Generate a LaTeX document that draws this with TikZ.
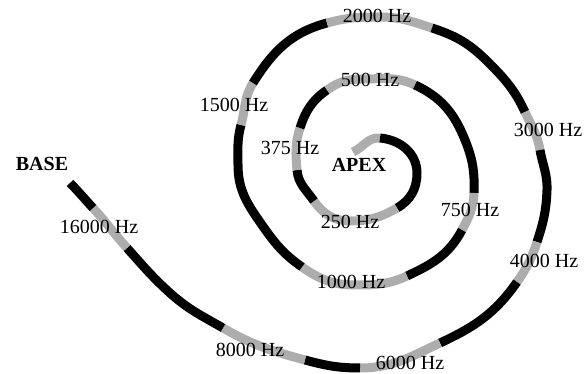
\documentclass[tikz,border=0pt]{standalone}
\usepackage{fontspec}
\setmainfont{Liberation Serif}

\tikzset{
  coil/.style={line width=9pt,black},
  band/.style={line width=9pt,black!32},
  freq/.style={font=\fontsize{20}{24}\selectfont,inner sep=0pt},
  tip/.style={font=\fontsize{20}{24}\selectfont\bfseries,inner sep=0pt}
}

\begin{document}
\begin{tikzpicture}[x=1pt,y=1pt]
    \useasboundingbox (0,0) rectangle (587,374);
    % points along the turns, from the apex outwards
    \coordinate (a0) at (353,222);
    \coordinate (a1) at (380,236);
    \coordinate (r1) at (417,201);
    \coordinate (a2) at (397,166);
    \coordinate (b1) at (350,153);
    \coordinate (a3) at (314,173);
    \coordinate (a4) at (297,204);
    \coordinate (a5) at (300,246);
    \coordinate (a6) at (327,284);
    \coordinate (t2) at (362,295);
    \coordinate (a7) at (415,289);
    \coordinate (r2a) at (465,234);
    \coordinate (a8) at (474,181);
    \coordinate (a9) at (462,144);
    \coordinate (a10) at (407,98);
    \coordinate (b2) at (355,89);
    \coordinate (a11) at (302,107);
    \coordinate (l3a) at (262,149);
    \coordinate (l3) at (238,209);
    \coordinate (a12) at (241,249);
    \coordinate (a13) at (253,291);
    \coordinate (a14) at (327,351);
    \coordinate (t3) at (380,357);
    \coordinate (a15) at (432,346);
    \coordinate (r3a) at (488,312);
    \coordinate (a16) at (525,262);
    \coordinate (a17) at (540,224);
    \coordinate (r3) at (547,184);
    \coordinate (a18) at (537,132);
    \coordinate (a19) at (517,92);
    \coordinate (a20) at (440,31);
    \coordinate (a21) at (360,6);
    \coordinate (a22) at (305,14);
    \coordinate (a23) at (223,46);
    \coordinate (t1) at (170,81);
    \coordinate (a24) at (127,126);
    \coordinate (a25) at (93,166);
    \coordinate (a26) at (70,191);

    \draw[band] (a0) to[out=25,in=175] (a1);
    \draw[coil] (a1) to[out=-5,in=90] (r1) to[out=-90,in=30] (a2);
    \draw[band] (a2) to[out=-150,in=0] (b1) to[out=180,in=-55] (a3);
    \draw[coil] (a3) to[out=125,in=-85] (a4);
    \draw[band] (a4) to[out=95,in=-108] (a5);
    \draw[coil] (a5) to[out=72,in=-145] (a6);
    \draw[band] (a6) to[out=35,in=180] (t2) to[out=0,in=155] (a7);
    \draw[coil] (a7) to[out=-25,in=112] (r2a) to[out=-68,in=88] (a8);
    \draw[band] (a8) to[out=-92,in=62] (a9);
    \draw[coil] (a9) to[out=-118,in=25] (a10);
    \draw[band] (a10) to[out=-155,in=0] (b2) to[out=180,in=-35] (a11);
    \draw[coil] (a11) to[out=145,in=-55] (l3a) to[out=125,in=-90] (l3)
                to[out=90,in=-105] (a12);
    \draw[band] (a12) to[out=75,in=-122] (a13);
    \draw[coil] (a13) to[out=58,in=-165] (a14);
    \draw[band] (a14) to[out=15,in=180] (t3) to[out=0,in=162] (a15);
    \draw[coil] (a15) to[out=-18,in=135] (r3a) to[out=-45,in=115] (a16);
    \draw[band] (a16) to[out=-65,in=100] (a17);
    \draw[coil] (a17) to[out=-80,in=88] (r3) to[out=-92,in=72] (a18);
    \draw[band] (a18) to[out=-108,in=55] (a19);
    \draw[coil] (a19) to[out=-125,in=25] (a20);
    \draw[band] (a20) to[out=-155,in=0] (a21);
    \draw[coil] (a21) to[out=180,in=-15] (a22);
    \draw[band] (a22) to[out=165,in=-30] (a23);
    \draw[coil] (a23) to[out=150,in=-42] (t1) to[out=138,in=-48] (a24);
    \draw[band] (a24) to[out=132,in=-47] (a25);
    \draw[coil] (a25) to[out=133,in=-45] (a26);

    \node[tip] (apex) at (359,209) {APEX};
    \node[tip] (base) at (42,210) {BASE};
    \node[freq] (f250) at (350,152) {250 Hz};
    \node[freq] (f375) at (290,226) {375 Hz};
    \node[freq] (f500) at (370,294) {500 Hz};
    \node[freq] (f750) at (470,164) {750 Hz};
    \node[freq] (f1000) at (351,92) {1000 Hz};
    \node[freq] (f1500) at (234,269) {1500 Hz};
    \node[freq] (f2000) at (377,358) {2000 Hz};
    \node[freq] (f3000) at (548,244) {3000 Hz};
    \node[freq] (f4000) at (544,113) {4000 Hz};
    \node[freq] (f6000) at (410,11) {6000 Hz};
    \node[freq] (f8000) at (250,24) {8000 Hz};
    \node[freq] (f16000) at (99,147) {16000 Hz};
\end{tikzpicture}
\end{document}
